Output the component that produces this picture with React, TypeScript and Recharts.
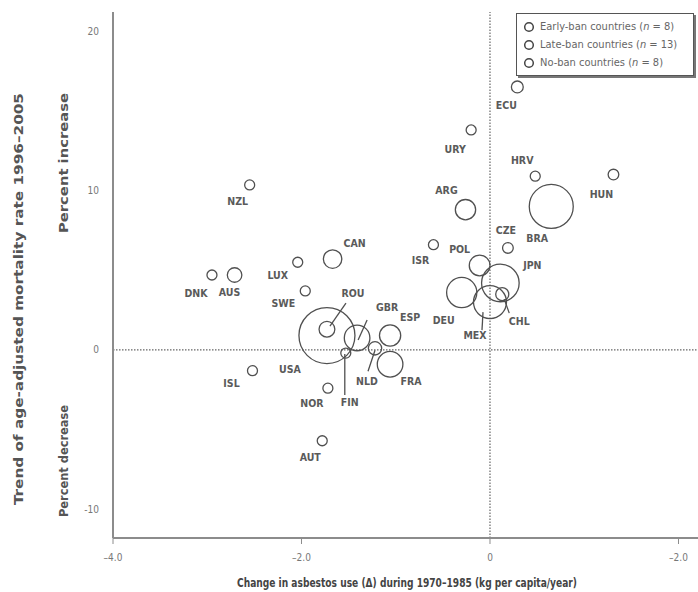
import React from "react";
import {
  ScatterChart,
  Scatter,
  XAxis,
  YAxis,
  ZAxis,
  ReferenceLine,
  Legend,
} from "recharts";

// Early-ban countries (n = 8)
const earlyCodes = ["AUT", "DNK", "FIN", "DEU", "ISL", "NLD", "NOR", "SWE"];
const earlyDelta = [-1.78, -2.95, -1.53, -0.3, -2.52, -1.22, -1.72, -1.96];
const earlyTrend = [-5.7, 4.7, -0.2, 3.6, -1.3, 0.1, -2.4, 3.7];
const earlyPop = [8.1, 5.4, 5.2, 82, 0.3, 16, 4.5, 8.9];

// Late-ban countries (n = 13)
const lateCodes = ["ARG", "AUS", "CHL", "CZE", "ESP", "FRA", "GBR", "HUN", "JPN", "LUX", "POL", "ROU", "URY"];
const lateDelta = [-0.26, -2.71, 0.13, 0.19, -1.06, -1.06, -1.41, 1.31, 0.11, -2.04, -0.11, -1.73, -0.2];
const lateTrend = [8.8, 4.7, 3.5, 6.4, 0.9, -0.9, 0.75, 11.0, 4.2, 5.5, 5.3, 1.3, 13.8];
const latePop = [37, 19, 15.4, 10.3, 40.5, 59, 59, 10.2, 127, 0.44, 38.6, 22.4, 3.3];

// No-ban countries (n = 8)
const noCodes = ["BRA", "CAN", "ECU", "HRV", "ISR", "MEX", "NZL", "USA"];
const noDelta = [0.65, -1.67, 0.29, 0.48, -0.6, 0.0, -2.55, -1.73];
const noTrend = [9.0, 5.7, 16.5, 10.9, 6.6, 3.0, 10.35, 0.9];
const noPop = [174, 30.7, 12.6, 4.4, 6.3, 98, 3.9, 282];

const groupNames = [
  "Early-ban countries",
  "Late-ban countries",
  "No-ban countries",
];
const groupCounts = [8, 13, 8];

const xTicks = [-4, -2, 0, 2];
const xTickLabels = ["\u20134.0", "\u20132.0", "0", "\u20132.0"];
const yTicks = [-10, 0, 10, 20];

// label placement (px offset from bubble centre) and leader lines
const labelOffset: Record<string, [number, number]> = {
  AUT: [-12, 16], DNK: [-16, 18], FIN: [4, 49], DEU: [-18, 27], ISL: [-21, 12],
  NLD: [-8, 33], NOR: [-16, 15], SWE: [-22, 12], ARG: [-19, -20], AUS: [-5, 17],
  CHL: [17, 27], CZE: [-2, -18], ESP: [20, -19], FRA: [21, 17], GBR: [30, -31],
  HUN: [-12, 19], JPN: [32, -18], LUX: [-20, 13], POL: [-20, -16], ROU: [26, -36],
  URY: [-16, 19], BRA: [-14, 32], CAN: [22, -16], ECU: [-11, 18], HRV: [-13, -16],
  ISR: [-13, 15], MEX: [-15, 33], NZL: [-12, 16], USA: [-37, 33],
};
const leaders: Record<string, [number, number, number, number]> = {
  ROU: [3, -3, 19, -26],
  GBR: [1, 2, 10, -18],
  NLD: [0, 2, -7, 23],
  FIN: [-1, 1, -1, 42],
  MEX: [-7, 10, -8, 28],
  CHL: [2, 5, 7, 19],
};

const font = "'DejaVu Sans Condensed', 'Liberation Sans Narrow', Arial, sans-serif";

const build = (codes: string[], delta: number[], trend: number[], pop: number[]) =>
  codes.map((code, i) => ({ code, delta: delta[i], trend: trend[i], pop: pop[i] }));

const groups = [
  build(earlyCodes, earlyDelta, earlyTrend, earlyPop),
  build(lateCodes, lateDelta, lateTrend, latePop),
  build(noCodes, noDelta, noTrend, noPop),
];

function Bubble(props: any) {
  const { cx, cy, size, payload } = props;
  if (cx == null || cy == null) return null;
  const r = Math.max(5, Math.sqrt(Math.max(size, 0) / Math.PI));
  const [dx, dy] = labelOffset[payload.code] || [0, -r - 6];
  const ld = leaders[payload.code];
  return (
    <g>
      <circle cx={cx} cy={cy} r={r} fill="none" stroke="#505050" strokeWidth={1.3} />
      {ld && (
        <line
          x1={cx + ld[0]}
          y1={cy + ld[1]}
          x2={cx + ld[2]}
          y2={cy + ld[3]}
          stroke="#505050"
          strokeWidth={1.3}
        />
      )}
      <text
        x={cx + dx}
        y={cy + dy}
        textAnchor="middle"
        dominantBaseline="central"
        fontFamily={font}
        fontWeight="bold"
        fontSize={10.5}
        fill="#5a5a5a"
      >
        {payload.code}
      </text>
    </g>
  );
}

function LegendBox() {
  return (
    <div
      style={{
        border: "1px solid #555",
        boxShadow: "2px 2px 0 #777",
        background: "#fff",
        padding: "4px 6px 3px 6px",
        fontFamily: font,
        fontSize: 11,
        color: "#666",
        lineHeight: "18px",
        width: 164,
      }}
    >
      {groupNames.map((name, i) => (
        <div key={name} style={{ display: "flex", alignItems: "center" }}>
          <svg width={12} height={12} style={{ marginRight: 5 }}>
            <circle cx={6} cy={6} r={4.3} fill="none" stroke="#444" strokeWidth={1.5} />
          </svg>
          <span>
            {name} (<i>n</i> = {groupCounts[i]})
          </span>
        </div>
      ))}
    </div>
  );
}

function YTitles() {
  return (
    <g fontFamily={font} fontWeight="bold" fill="#555">
      <text
        transform="translate(18,299) rotate(-90)"
        textAnchor="middle"
        dominantBaseline="central"
        fontSize={12.5}
        textLength={412}
        lengthAdjust="spacingAndGlyphs"
      >
        Trend of age-adjusted mortality rate 1996–2005
      </text>
      <text
        transform="translate(63,163) rotate(-90)"
        textAnchor="middle"
        dominantBaseline="central"
        fontSize={12.5}
        textLength={140}
        lengthAdjust="spacingAndGlyphs"
      >
        Percent increase
      </text>
      <text
        transform="translate(63,461) rotate(-90)"
        textAnchor="middle"
        dominantBaseline="central"
        fontSize={12.5}
        textLength={112}
        lengthAdjust="spacingAndGlyphs"
      >
        Percent decrease
      </text>
    </g>
  );
}

function XTitle() {
  return (
    <text
      x={407}
      y={582}
      textAnchor="middle"
      dominantBaseline="central"
      fontFamily={font}
      fontWeight="bold"
      fontSize={13}
      fill="#444"
      textLength={340}
      lengthAdjust="spacingAndGlyphs"
    >
      Change in asbestos use (Δ) during 1970–1985 (kg per capita/year)
    </text>
  );
}

export default function App() {
  return (
    <div style={{ position: "absolute", left: 0, top: 0, width: 698, height: 592, background: "#fff" }}>
      <ScatterChart
        width={698}
        height={592}
        margin={{ top: 12, right: 0, bottom: 0, left: 73 }}
      >
        <XAxis
          type="number"
          dataKey="delta"
          domain={[-4, 2.207]}
          ticks={xTicks}
          tickFormatter={(v: number) => xTickLabels[xTicks.indexOf(v)]}
          axisLine={{ stroke: "#8c8c8c", strokeWidth: 2 }}
          tickLine={{ stroke: "#8c8c8c" }}
          tickSize={6}
          tickMargin={10}
          height={54}
          tick={{ fontFamily: font, fontSize: 10, fill: "#777" }}
          label={{ content: () => <XTitle /> }}
        />
        <YAxis
          type="number"
          dataKey="trend"
          domain={[-11.8, 21.2]}
          ticks={yTicks}
          allowDataOverflow
          axisLine={{ stroke: "#8c8c8c", strokeWidth: 2 }}
          tickLine={false}
          tickMargin={8}
          width={40}
          tick={{ fontFamily: font, fontSize: 10, fill: "#777" }}
          label={{ content: () => <YTitles /> }}
        />
        <ZAxis type="number" dataKey="pop" domain={[0, 282]} range={[0, 2463]} />
        <ReferenceLine x={0} stroke="#666" strokeDasharray="1.5 1.5" strokeWidth={1.2} />
        <ReferenceLine y={0} stroke="#666" strokeDasharray="1.5 1.5" strokeWidth={1.2} />
        <Legend
          layout="horizontal"
          verticalAlign="middle"
          align="center"
          wrapperStyle={{ top: 13, left: 516, width: 180, height: 66 }}
          content={() => <LegendBox />}
        />
        {groups.map((data, i) => (
          <Scatter
            key={groupNames[i]}
            name={groupNames[i]}
            data={data}
            shape={(p: any) => <Bubble {...p} />}
            isAnimationActive={false}
          />
        ))}
      </ScatterChart>
    </div>
  );
}
